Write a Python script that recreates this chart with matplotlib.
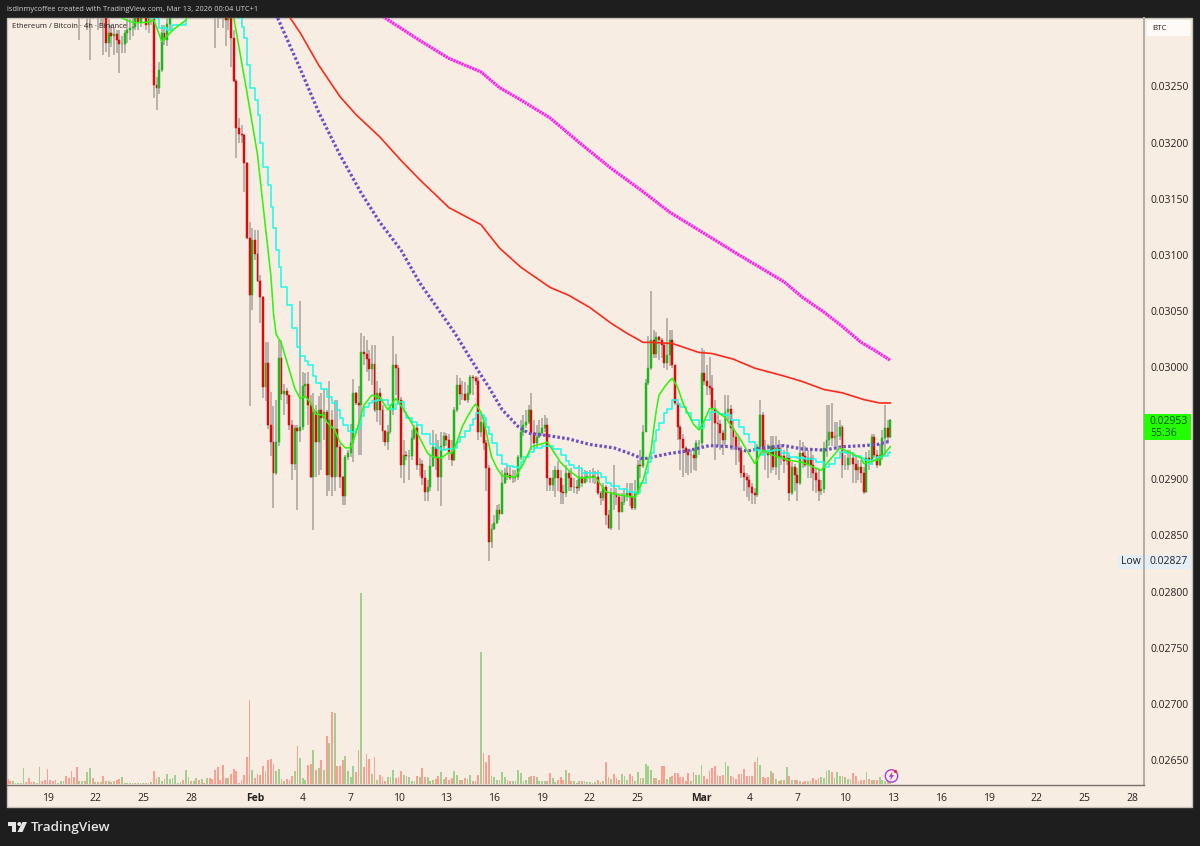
#!/usr/bin/env python3
"""ETH/BTC 4h chart with moving averages and volume, TradingView look."""

import matplotlib
matplotlib.use("Agg")
import matplotlib.pyplot as plt
import numpy as np
from matplotlib.patches import Circle, Polygon, Rectangle

FONT = "Open Sans"
PANEL = "#f8ede2"
DARK = "#1e1e1e"

# bars are numbered from Jan 19 00:00, six per day
first_bar = 12
first_open = 3320

# prices in units of 0.00001 BTC
closes = [
    3325, 3330, 3325, 3330, 3340, 3325, 3335, 3320, 3330, 3315,
    3289, 3298, 3295, 3297, 3291, 3288, 3288, 3298, 3300, 3302,
    3303, 3320, 3307, 3320, 3325, 3305, 3312, 3325, 3251, 3249,
    3265, 3298, 3291, 3306, 3320, 3335, 3345, 3355, 3360, 3350,
    3365, 3375, 3370, 3380, 3385, 3375, 3380, 3370, 3375, 3365,
    3360, 3345, 3335, 3330, 3325, 3309, 3311, 3293, 3255, 3213,
    3208, 3207, 3182, 3115, 3064, 3113, 3101, 3077, 3062, 2982,
    3004, 2948, 2933, 2906, 2933, 3008, 2976, 2979, 2975, 2948,
    2914, 2946, 2943, 2947, 2983, 2985, 2966, 2902, 2960, 2933,
    2962, 2955, 2960, 2904, 2953, 2902, 2945, 2929, 2902, 2885,
    2920, 2923, 2932, 2977, 2968, 2966, 3013, 3012, 3007, 2998,
    3003, 2962, 2977, 2962, 2943, 2933, 2942, 2962, 3002, 2999,
    2971, 2913, 2922, 2921, 2921, 2937, 2946, 2913, 2914, 2901,
    2889, 2893, 2912, 2929, 2919, 2902, 2930, 2939, 2935, 2924,
    2917, 2962, 2984, 2976, 2976, 2971, 2977, 2991, 2990, 2988,
    2942, 2951, 2932, 2910, 2844, 2856, 2861, 2873, 2869, 2897,
    2906, 2904, 2901, 2901, 2902, 2920, 2942, 2948, 2951, 2962,
    2941, 2932, 2938, 2941, 2946, 2948, 2901, 2895, 2901, 2908,
    2901, 2889, 2888, 2906, 2901, 2893, 2893, 2892, 2902, 2897,
    2902, 2903, 2903, 2902, 2902, 2888, 2883, 2893, 2868, 2857,
    2888, 2887, 2884, 2871, 2880, 2886, 2888, 2884, 2874, 2888,
    2913, 2912, 2942, 2986, 2999, 3024, 3012, 3027, 3024, 3020,
    3004, 3011, 3024, 3002, 2968, 2947, 2936, 2928, 2924, 2922,
    2922, 2919, 2932, 2932, 2995, 2988, 2983, 2981, 2963, 2950,
    2949, 2941, 2935, 2960, 2963, 2946, 2938, 2928, 2926, 2906,
    2902, 2899, 2893, 2888, 2886, 2929, 2957, 2926, 2924, 2922,
    2930, 2911, 2928, 2920, 2921, 2916, 2919, 2888, 2911, 2904,
    2897, 2923, 2921, 2913, 2919, 2913, 2906, 2899, 2890, 2891,
    2928, 2935, 2942, 2937, 2939, 2939, 2947, 2913, 2913, 2919,
    2919, 2914, 2908, 2911, 2906, 2889, 2919, 2917, 2938, 2922,
    2913, 2922, 2937, 2946, 2938, 2953,
]
highs = [
    3350, 3350, 3345, 3345, 3350, 3345, 3350, 3345, 3345, 3340,
    3325, 3310, 3305, 3303, 3300, 3300, 3295, 3300, 3310, 3310,
    3312, 3330, 3330, 3335, 3340, 3335, 3330, 3345, 3335, 3258,
    3272, 3305, 3305, 3312, 3330, 3345, 3360, 3370, 3375, 3370,
    3380, 3390, 3385, 3395, 3400, 3395, 3395, 3390, 3390, 3385,
    3380, 3370, 3360, 3350, 3345, 3335, 3325, 3320, 3300, 3257,
    3222, 3216, 3208, 3183, 3129, 3124, 3122, 3122, 3082, 3063,
    3022, 3022, 2978, 2965, 2971, 3024, 3024, 2985, 2981, 2975,
    2953, 2948, 2948, 3059, 2996, 2995, 2996, 2975, 2977, 2966,
    2974, 2977, 2980, 2962, 2988, 2962, 2971, 2971, 2931, 2903,
    2922, 2926, 2949, 2989, 2978, 2983, 3030, 3028, 3024, 3015,
    3020, 3020, 2988, 2981, 2966, 2944, 2948, 2966, 3028, 3012,
    3002, 2973, 2935, 2925, 2926, 2944, 2948, 2949, 2919, 2917,
    2908, 2899, 2922, 2944, 2940, 2935, 2942, 2942, 2941, 2940,
    2935, 2964, 2993, 2990, 2988, 2987, 2984, 2993, 2993, 2992,
    2991, 2957, 2953, 2935, 2913, 2860, 2868, 2877, 2878, 2908,
    2910, 2913, 2911, 2908, 2908, 2922, 2953, 2957, 2962, 2966,
    2977, 2953, 2948, 2953, 2955, 2957, 2955, 2901, 2908, 2912,
    2916, 2908, 2895, 2913, 2908, 2910, 2901, 2899, 2913, 2910,
    2908, 2907, 2908, 2910, 2907, 2908, 2890, 2897, 2895, 2873,
    2892, 2913, 2892, 2888, 2888, 2892, 2897, 2897, 2897, 2899,
    2917, 2926, 2948, 2989, 3028, 3068, 3033, 3031, 3028, 3026,
    3022, 3044, 3033, 3033, 3002, 2968, 2948, 2940, 2930, 2927,
    2927, 2926, 2935, 2935, 3017, 3015, 3002, 3009, 2993, 2971,
    2957, 2953, 2944, 2975, 2975, 2966, 2953, 2940, 2937, 2930,
    2913, 2906, 2904, 2897, 2892, 2931, 2971, 2960, 2935, 2931,
    2939, 2939, 2939, 2935, 2931, 2926, 2928, 2922, 2915, 2914,
    2910, 2935, 2933, 2930, 2926, 2926, 2922, 2910, 2908, 2899,
    2933, 2966, 2966, 2968, 2951, 2951, 2953, 2948, 2922, 2926,
    2926, 2924, 2921, 2917, 2917, 2911, 2924, 2926, 2940, 2940,
    2926, 2931, 2944, 2966, 2953, 2954,
]
lows = [
    3291, 3310, 3315, 3300, 3274, 3310, 3312, 3300, 3305, 3278,
    3281, 3276, 3285, 3278, 3280, 3262, 3280, 3280, 3289, 3291,
    3295, 3300, 3300, 3303, 3310, 3300, 3298, 3305, 3240, 3229,
    3243, 3263, 3287, 3286, 3300, 3315, 3325, 3335, 3340, 3335,
    3345, 3355, 3350, 3360, 3365, 3360, 3365, 3350, 3345, 3340,
    3330, 3284, 3302, 3310, 3302, 3286, 3300, 3267, 3254, 3186,
    3200, 3200, 3156, 3114, 2965, 3051, 3095, 3076, 3039, 2972,
    2970, 2945, 2921, 2874, 2904, 2930, 2971, 2957, 2967, 2944,
    2899, 2908, 2873, 2933, 2944, 2972, 2948, 2901, 2855, 2902,
    2904, 2908, 2935, 2885, 2890, 2885, 2890, 2902, 2892, 2877,
    2877, 2917, 2920, 2915, 2966, 2922, 2922, 3002, 2996, 2988,
    2984, 2960, 2951, 2948, 2933, 2930, 2926, 2940, 2957, 2975,
    2969, 2901, 2897, 2917, 2899, 2917, 2935, 2908, 2903, 2895,
    2881, 2881, 2890, 2911, 2908, 2890, 2876, 2926, 2930, 2917,
    2912, 2916, 2960, 2966, 2971, 2970, 2968, 2975, 2975, 2984,
    2935, 2938, 2926, 2890, 2827, 2839, 2855, 2860, 2864, 2869,
    2896, 2899, 2899, 2897, 2898, 2899, 2917, 2939, 2946, 2949,
    2926, 2926, 2928, 2937, 2939, 2942, 2890, 2890, 2890, 2884,
    2890, 2878, 2878, 2884, 2890, 2890, 2888, 2887, 2890, 2893,
    2897, 2898, 2897, 2897, 2896, 2886, 2877, 2881, 2859, 2856,
    2855, 2873, 2877, 2855, 2871, 2877, 2881, 2876, 2873, 2873,
    2886, 2901, 2910, 2943, 2984, 2997, 3008, 3008, 3006, 3008,
    2999, 2997, 3001, 2999, 2966, 2935, 2908, 2902, 2906, 2904,
    2906, 2908, 2907, 2922, 2930, 2984, 2975, 2975, 2930, 2917,
    2930, 2926, 2922, 2930, 2953, 2926, 2926, 2913, 2915, 2901,
    2890, 2884, 2881, 2878, 2878, 2884, 2926, 2922, 2908, 2901,
    2906, 2908, 2904, 2899, 2913, 2906, 2913, 2881, 2886, 2890,
    2881, 2895, 2910, 2911, 2901, 2901, 2890, 2888, 2881, 2886,
    2888, 2920, 2930, 2930, 2930, 2926, 2935, 2901, 2908, 2908,
    2913, 2897, 2897, 2899, 2897, 2887, 2888, 2908, 2913, 2919,
    2910, 2912, 2917, 2922, 2933, 2937,
]

# volume has no scale on the chart, these are relative heights from bar -15 on
volumes = [
    5, 3, 3, 1, 1, 1, 16, 2, 6, 2, 2, 1, 17, 3, 4, 15, 4, 3, 4, 1, 3, 3, 8, 6, 13, 7, 17,
    3, 3, 3, 12, 16, 6, 2, 2, 2, 8,
    3, 3, 2, 3, 4, 5, 7, 1, 1, 1,
    1, 1, 1, 1, 1, 1, 1, 2, 13, 6,
    7, 3, 5, 10, 5, 6, 9, 1, 2, 4,
    14, 7, 3, 3, 6, 4, 5, 1, 6, 6,
    5, 14, 17, 4, 19, 6, 6, 10, 15, 13,
    1, 4, 9, 27, 84, 14, 6, 10, 9, 18,
    13, 24, 25, 20, 13, 15, 5, 3, 5, 4,
    8, 13, 38, 26, 6, 4, 19, 20, 34, 14,
    16, 24, 14, 48, 41, 72, 71, 18, 18, 24,
    28, 13, 7, 18, 12, 34, 191, 17, 30, 25,
    10, 27, 4, 9, 7, 3, 7, 7, 14, 6,
    7, 13, 9, 8, 7, 3, 3, 8, 7, 16,
    7, 7, 3, 4, 5, 8, 12, 5, 7, 4,
    6, 13, 9, 4, 4, 6, 5, 9, 3, 3,
    9, 132, 31, 22, 29, 8, 7, 4, 4, 12,
    7, 4, 3, 3, 3, 14, 11, 3, 4, 7,
    8, 8, 7, 3, 3, 3, 3, 11, 6, 2,
    4, 7, 4, 14, 11, 3, 3, 1, 3, 3,
    3, 2, 2, 1, 2, 4, 2, 3, 22, 7,
    5, 10, 6, 4, 10, 8, 4, 10, 8, 3,
    12, 6, 6, 20, 18, 14, 6, 6, 4, 18,
    18, 5, 7, 8, 11, 11, 7, 7, 3, 11,
    3, 12, 9, 9, 19, 8, 5, 13, 16, 18,
    9, 8, 9, 22, 18, 8, 7, 5, 10, 10,
    15, 8, 8, 8, 22, 27, 19, 7, 6, 7,
    13, 11, 5, 3, 4, 4, 17, 8, 4, 4,
    4, 3, 2, 3, 3, 3, 6, 4, 6, 7,
    6, 13, 14, 12, 6, 12, 8, 8, 7, 5,
    5, 11, 8, 3, 4, 4, 12, 5, 4, 4,
    4, 7, 4, 3, 3, 5,
]
# the 27 bars before the first candle is in range
early_up = [0, 0, 1, 1, 1, 1, 1, 0, 0, 0, 0, 1, 1, 0, 0, 0, 0, 0, 0, 1, 1, 1, 0, 0, 0, 0, 0]

purple_x = [84, 86, 95, 102, 110, 118, 125, 133, 140, 148, 153, 160, 166, 171, 177, 181, 188, 196, 204,
            213, 219, 224, 228, 234, 240, 249, 257, 263, 269, 277, 284, 292, 299, 307, 312, 317]
purple_y = [3327, 3314, 3266, 3227, 3189, 3155, 3129, 3104, 3075, 3048, 3031, 3004, 2982, 2962, 2947, 2941, 2939, 2936, 2931,
            2928, 2923, 2918, 2920, 2923, 2925, 2930, 2929, 2925, 2928, 2930, 2927, 2926, 2929, 2930, 2931, 2934]

red_x = [87, 91, 95, 102, 110, 116, 125, 133, 140, 151, 163, 170, 178, 189, 196, 204, 212, 218, 224, 227,
         235, 245, 250, 258, 266, 277, 284, 292, 299, 307, 313, 317]
red_y = [3336, 3312, 3298, 3269, 3241, 3225, 3205, 3184, 3167, 3142, 3127, 3106, 3089, 3071, 3064, 3053, 3039, 3030, 3022, 3022,
         3021, 3013, 3012, 3007, 2999, 2992, 2987, 2980, 2977, 2971, 2968, 2968]

magenta_x = [121, 127, 140, 151, 163, 170, 178, 189, 200, 212, 223, 234, 245, 260, 277, 284, 292, 299, 306, 311, 317]
magenta_y = [3322, 3311, 3291, 3275, 3263, 3249, 3238, 3222, 3200, 3177, 3158, 3138, 3122, 3100, 3076, 3062, 3049, 3036, 3022, 3015, 3006]

green_x = [28, 32, 37, 40, 43, 47, 52, 57, 65, 70, 75, 79, 82, 84, 85, 86, 88, 91, 93, 95, 97, 99, 101, 104, 105,
           108, 110, 112, 114, 116, 119, 122, 125, 128, 131, 134, 138, 143, 145, 148, 151, 152, 154, 156, 158, 160, 161, 163, 164,
           165, 166, 167, 169, 171, 176, 179, 182, 188, 193, 196, 200, 206, 210, 215, 221, 224, 227, 228, 229, 230, 232, 234, 235,
           237, 239, 241, 243, 245, 247, 249, 251, 253, 255, 260, 266, 269, 272, 279, 284, 291, 298, 306, 307, 313, 317]
green_y = [3311, 3307, 3307, 3309, 3290, 3300, 3309, 3345, 3345, 3312, 3245, 3189, 3124, 3082, 3048, 3029, 3021, 2997, 2981, 2972, 2974, 2968, 2958, 2957, 2951,
           2944, 2933, 2928, 2928, 2941, 2966, 2975, 2973, 2962, 2972, 2962, 2946, 2923, 2920, 2919, 2924, 2923, 2933, 2947, 2956, 2964, 2967, 2960, 2953,
           2942, 2931, 2920, 2910, 2903, 2902, 2914, 2929, 2933, 2915, 2908, 2901, 2902, 2889, 2886, 2884, 2899, 2926, 2945, 2962, 2975, 2982, 2988, 2990,
           2982, 2968, 2958, 2949, 2944, 2952, 2963, 2963, 2958, 2955, 2938, 2914, 2926, 2922, 2917, 2915, 2908, 2928, 2919, 2914, 2918, 2929]

cyan_x = [39, 42, 45, 47, 52, 57, 67, 72, 73, 74, 75, 76, 78, 79, 80, 81, 83, 84, 85, 86, 87, 88, 90, 92, 94,
          95, 97, 98, 100, 101, 103, 105, 107, 109, 110, 111, 113, 114, 116, 117, 118, 119, 121, 122, 124, 126, 128, 129, 131, 132,
          134, 135, 137, 139, 141, 144, 146, 148, 150, 153, 154, 155, 157, 159, 160, 161, 163, 164, 165, 166, 167, 169, 171, 173, 175,
          177, 178, 179, 181, 183, 186, 188, 190, 193, 195, 196, 198, 201, 204, 207, 208, 210, 212, 215, 218, 221, 223, 225, 226, 227,
          228, 229, 230, 232, 233, 235, 237, 238, 240, 242, 245, 247, 249, 252, 255, 257, 260, 262, 264, 266, 268, 270, 273, 276, 279,
          282, 285, 287, 289, 292, 294, 296, 298, 300, 303, 306, 307, 309, 310, 312, 314, 316, 317]
cyan_y = [3311, 3302, 3300, 3305, 3312, 3345, 3345, 3311, 3303, 3293, 3269, 3249, 3238, 3225, 3200, 3178, 3162, 3143, 3124, 3104, 3089, 3071, 3055, 3035, 3018,
          3010, 3005, 3002, 2992, 2986, 2980, 2973, 2968, 2962, 2955, 2948, 2943, 2942, 2945, 2948, 2956, 2964, 2968, 2970, 2971, 2971, 2966, 2963, 2967, 2969,
          2960, 2955, 2951, 2948, 2940, 2931, 2928, 2926, 2927, 2928, 2933, 2938, 2943, 2948, 2954, 2959, 2957, 2955, 2947, 2940, 2932, 2922, 2914, 2912, 2911,
          2910, 2915, 2920, 2924, 2928, 2930, 2930, 2927, 2922, 2916, 2913, 2910, 2906, 2906, 2906, 2902, 2897, 2894, 2891, 2889, 2888, 2897, 2906, 2915, 2923,
          2934, 2944, 2950, 2959, 2963, 2971, 2967, 2964, 2959, 2953, 2946, 2953, 2960, 2958, 2957, 2953, 2947, 2940, 2933, 2926, 2922, 2925, 2926, 2923, 2920,
          2919, 2918, 2918, 2915, 2911, 2914, 2919, 2924, 2923, 2921, 2919, 2917, 2914, 2917, 2920, 2921, 2923, 2924]

price_ticks = [0.0325, 0.032, 0.0315, 0.031, 0.0305, 0.03, 0.029, 0.0285, 0.028, 0.0275, 0.027, 0.0265]
date_ticks = [0, 18, 36, 54, 78, 96, 114, 132, 150, 168, 186, 204, 222, 246, 264, 282, 300, 318, 336, 354, 372, 390, 408]
date_labels = ["19", "22", "25", "28", "Feb", "4", "7", "10", "13", "16", "19", "22", "25", "Mar",
               "4", "7", "10", "13", "16", "19", "22", "25", "28"]


def px_axes_rect(left, top, right, bottom):
    return [left / 1200, (846 - bottom) / 846, (right - left) / 1200, (bottom - top) / 846]


def main():
    plt.rcParams["font.family"] = [FONT, "DejaVu Sans"]
    fig = plt.figure(figsize=(12, 8.46), dpi=100, facecolor=DARK)
    fig.add_artist(Rectangle((7 / 1200, (846 - 807) / 846), 1185 / 1200, 789 / 846,
                             transform=fig.transFigure, facecolor=PANEL, edgecolor="#c8c1ba",
                             linewidth=1, zorder=-5))

    rect = px_axes_rect(7, 18, 1144, 785)
    xlim = (-15.23, 412.4)

    vol_ax = fig.add_axes(rect, zorder=1)
    vol_ax.patch.set_visible(False)
    vol_ax.set_axis_off()

    ax = fig.add_axes(rect, zorder=2)
    ax.patch.set_visible(False)

    c = np.array(closes) * 1e-5
    o = np.r_[first_open * 1e-5, c[:-1]]
    h = np.array(highs) * 1e-5
    l = np.array(lows) * 1e-5
    x = np.arange(first_bar, first_bar + len(c))
    up = c >= o

    ax.vlines(x, l, h, color="#a8a29c", linewidth=1.1, zorder=2)
    ax.bar(x[up], (c - o)[up], bottom=o[up], width=0.72, color="#1cb81c",
           edgecolor="#1cb81c", linewidth=0.35, zorder=3)
    ax.bar(x[~up], (c - o)[~up], bottom=o[~up], width=0.72, color="#d80c0c",
           edgecolor="#d80c0c", linewidth=0.35, zorder=3)

    ax.plot(magenta_x, np.array(magenta_y) * 1e-5, color="#ff22ee", linewidth=2.3,
            linestyle=(0, (0.7, 0.2)), zorder=4)
    ax.plot(red_x, np.array(red_y) * 1e-5, color="#fb2a1c", linewidth=1.2, zorder=4)
    ax.plot(purple_x, np.array(purple_y) * 1e-5, color="#6c50c8", linewidth=2.3,
            linestyle=(0, (0.8, 0.7)), zorder=4)
    ax.plot(cyan_x, np.array(cyan_y) * 1e-5, color="#1dfbe8", linewidth=1.15,
            drawstyle="steps-post", zorder=5)
    ax.plot(green_x, np.array(green_y) * 1e-5, color="#2ff50c", linewidth=1.15, zorder=6)

    ax.set_xlim(*xlim)
    ax.set_ylim(0.026276, 0.03311)
    ax.yaxis.tick_right()
    ax.set_yticks(price_ticks)
    ax.set_yticklabels([f"{p:.5f}" for p in price_ticks])
    ax.set_xticks(date_ticks)
    ax.set_xticklabels(date_labels)
    ax.tick_params(axis="both", length=0, labelsize=7.5, labelcolor="#26221f")
    ax.tick_params(axis="x", pad=6)
    ax.tick_params(axis="y", pad=4.5)
    for lab in ax.get_xticklabels():
        if lab.get_text() in ("Feb", "Mar"):
            lab.set_fontweight("bold")
    for side in ("top", "left"):
        ax.spines[side].set_visible(False)
    ax.spines["right"].set_color("#b4ada6")
    ax.spines["right"].set_linewidth(1.4)
    ax.spines["bottom"].set_color("#77726d")
    ax.spines["bottom"].set_linewidth(1.0)

    vol_x = np.arange(-15, -15 + len(volumes))
    vol_up = np.r_[np.array(early_up, dtype=bool), up]
    vol_colors = np.where(vol_up, "#a2cf8f", "#fb9f93")
    vol_ax.bar(vol_x, volumes, width=0.68, color=vol_colors, linewidth=0)
    vol_ax.set_xlim(*xlim)
    vol_ax.set_ylim(-0.7, 766.3)

    # everything that is TradingView chrome, in image pixels
    deco = fig.add_axes([0, 0, 1, 1], zorder=5)
    deco.set_xlim(0, 1200)
    deco.set_ylim(846, 0)
    deco.set_axis_off()
    deco.patch.set_visible(False)

    deco.text(7, 9.5, "lsdinmycoffee created with TradingView.com, Mar 13, 2026 00:04 UTC+1",
              color="#cfcfcf", fontsize=5.4, va="center", ha="left")
    deco.text(12, 27, "Ethereum / Bitcoin · 4h · Binance", color="#26221f", fontsize=5.5, va="center", ha="left")

    deco.add_patch(Rectangle((1147, 20), 43, 16, facecolor="#fdfaf7", edgecolor="none"))
    deco.text(1152, 28.5, "BTC", color="#26221f", fontsize=5.8, va="center", ha="left")

    deco.add_patch(Rectangle((1144, 414), 46.5, 26, facecolor="#22ff00", edgecolor="none"))
    deco.text(1150, 421, "0.02953", color="#0c4d0c", fontsize=7.5, va="center", ha="left")
    deco.text(1150, 433, "55:36", color="#0c4d0c", fontsize=7.5, va="center", ha="left")

    deco.add_patch(Rectangle((1118, 555), 72.5, 14, facecolor="#e3eef8", edgecolor="none"))
    deco.plot([1143.7, 1143.7], [555, 569], color="#b4ada6", linewidth=1.4)
    deco.text(1121.5, 562, "Low", color="#26221f", fontsize=7.5, va="center", ha="left")
    deco.text(1150, 562, "0.02827", color="#26221f", fontsize=7.5, va="center", ha="left")

    # lightning badge on the last volume bars
    deco.add_patch(Circle((891.5, 776), 6.2, facecolor=PANEL, edgecolor="#a63fd6", linewidth=1.0))
    deco.add_patch(Polygon([(892.5, 771.5), (888.8, 776.8), (891, 776.8), (890, 780.5), (894, 775), (891.8, 775)],
                           facecolor="#a63fd6", edgecolor="none"))
    deco.add_patch(Circle((895.5, 771.5), 1.6, facecolor="#f0252c", edgecolor="none"))

    # logo and wordmark
    logo = "#e6e6e6"
    deco.add_patch(Polygon([(8, 822), (16, 822), (16, 832), (12, 832), (12, 826), (8, 826)], facecolor=logo, edgecolor="none"))
    deco.add_patch(Circle((19.3, 824), 2, facecolor=logo, edgecolor="none"))
    deco.add_patch(Polygon([(22.5, 822), (27, 822), (22.5, 832), (17.5, 832)], facecolor=logo, edgecolor="none"))
    deco.text(31, 827, "TradingView", color=logo, fontsize=9.7, fontweight="semibold", va="center", ha="left")

    fig.savefig("out.png", dpi=100, facecolor=DARK)


if __name__ == "__main__":
    main()
